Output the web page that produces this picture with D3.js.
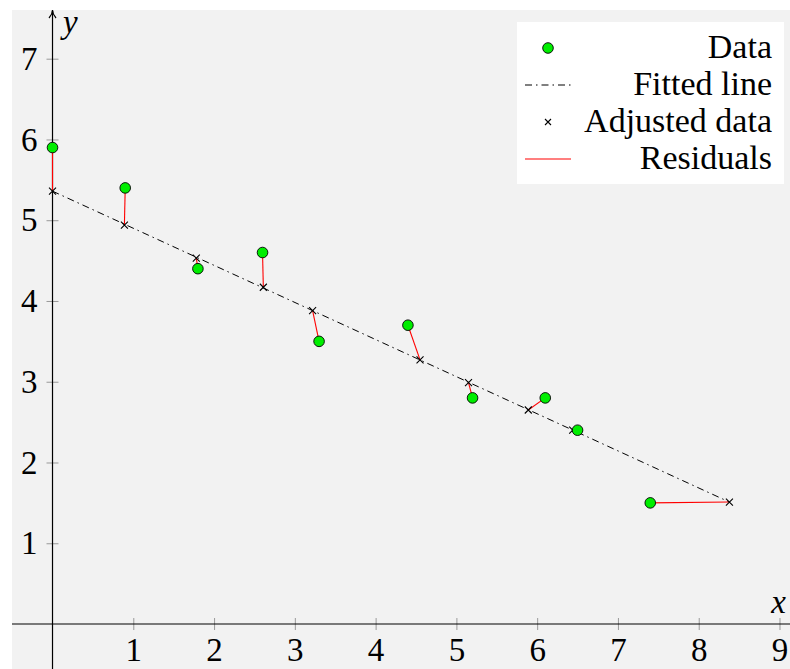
<!DOCTYPE html>
<html>
<head>
<meta charset="utf-8">
<script src="https://cdn.jsdelivr.net/npm/d3@7"></script>
<style>
    body { margin: 0; background: #ffffff; }
    svg { display: block; }
</style>
</head>
<body>
<div id="chart"></div>
<script>
// measured data points
let dataX = [0, 0.9, 1.8, 2.6, 3.3, 4.4, 5.2, 6.1, 6.5, 7.4];
let dataY = [5.9, 5.4, 4.4, 4.6, 3.5, 3.7, 2.8, 2.8, 2.4, 1.5];

// adjusted points on the fitted line
let adjX = [0, 0.89, 1.78, 2.61, 3.22, 4.55, 5.15, 5.89, 6.44, 8.38];
let adjY = [5.36, 4.94, 4.53, 4.17, 3.88, 3.27, 2.99, 2.65, 2.40, 1.51];

// fitted line end points
let lineX = [0, 8.38];
let lineY = [5.36, 1.51];

let xTicks = [1, 2, 3, 4, 5, 6, 7, 8, 9];
let yTicks = [1, 2, 3, 4, 5, 6, 7];
let legendLabels = ["Data", "Fitted line", "Adjusted data", "Residuals"];

const WIDTH = 790;
const HEIGHT = 669;
const FONT = "'Liberation Serif', 'DejaVu Serif', 'Times New Roman', serif";
const DASHDOT = "7,4,1.5,4";

function drawCross(g, cx, cy, r) {
    g.append("path")
        .attr("d", "M" + (cx - r) + "," + (cy - r) + "L" + (cx + r) + "," + (cy + r) +
                   "M" + (cx - r) + "," + (cy + r) + "L" + (cx + r) + "," + (cy - r))
        .attr("stroke", "#000")
        .attr("stroke-width", 1.1)
        .attr("fill", "none");
}

function draw() {
    var svg = d3.select("#chart")
        .append("svg")
            .attr("width", WIDTH)
            .attr("height", HEIGHT)
            .attr("font-family", FONT);

    // plot background
    svg.append("rect")
        .attr("x", 12).attr("y", 10)
        .attr("width", WIDTH - 12).attr("height", HEIGHT - 10)
        .attr("fill", "#f2f2f2");

    var x = d3.scaleLinear().domain([-0.5015, 9.13]).range([12, 790]);
    var y = d3.scaleLinear().domain([-0.557, 7.603]).range([669, 10]);

    // x axis
    var xAxis = svg.append("g")
        .attr("transform", "translate(0," + y(0) + ")")
        .call(d3.axisBottom(x).tickValues(xTicks).tickSize(0).tickPadding(14).tickFormat(d3.format("d")))
        .attr("font-family", FONT)
        .attr("font-size", 33);
    xAxis.select(".domain").remove();
    xAxis.selectAll(".tick line").remove();
    xAxis.selectAll(".tick").append("line")
        .attr("y1", -6).attr("y2", 6)
        .attr("stroke", "#999").attr("stroke-width", 1);
    xAxis.selectAll("text").attr("fill", "#000");

    // y axis
    var yAxis = svg.append("g")
        .attr("transform", "translate(" + x(0) + ",0)")
        .call(d3.axisLeft(y).tickValues(yTicks).tickSize(0).tickPadding(15).tickFormat(d3.format("d")))
        .attr("font-family", FONT)
        .attr("font-size", 33);
    yAxis.select(".domain").remove();
    yAxis.selectAll(".tick line").remove();
    yAxis.selectAll(".tick").append("line")
        .attr("x1", -6).attr("x2", 6)
        .attr("stroke", "#999").attr("stroke-width", 1);
    yAxis.selectAll("text").attr("fill", "#000");

    // axis lines with arrows
    svg.append("line")
        .attr("x1", 12).attr("x2", WIDTH)
        .attr("y1", y(0)).attr("y2", y(0))
        .attr("stroke", "#000").attr("stroke-width", 1.2);
    svg.append("line")
        .attr("x1", x(0)).attr("x2", x(0))
        .attr("y1", HEIGHT).attr("y2", 11)
        .attr("stroke", "#000").attr("stroke-width", 1.2);
    svg.append("path")
        .attr("d", "M" + (x(0) - 3.5) + ",18 Q" + x(0) + ",14 " + x(0) + ",10 Q" + x(0) + ",14 " + (x(0) + 3.5) + ",18")
        .attr("stroke", "#000").attr("stroke-width", 1.2).attr("fill", "none");

    svg.append("text")
        .attr("x", 63).attr("y", 33)
        .attr("font-size", 33).attr("font-style", "italic")
        .text("y");
    svg.append("text")
        .attr("x", 786).attr("y", 613)
        .attr("text-anchor", "end")
        .attr("font-size", 33).attr("font-style", "italic")
        .text("x");

    // fitted line
    svg.append("line")
        .attr("x1", x(lineX[0])).attr("y1", y(lineY[0]))
        .attr("x2", x(lineX[1])).attr("y2", y(lineY[1]))
        .attr("stroke", "#000").attr("stroke-width", 1)
        .attr("stroke-dasharray", DASHDOT);

    // residuals
    for (let i = 0; i < dataX.length; i++) {
        svg.append("line")
            .attr("x1", x(dataX[i])).attr("y1", y(dataY[i]))
            .attr("x2", x(adjX[i])).attr("y2", y(adjY[i]))
            .attr("stroke", "#ff0000").attr("stroke-width", 1.1);
    }

    // adjusted data
    let crosses = svg.append("g");
    for (let i = 0; i < adjX.length; i++) {
        drawCross(crosses, x(adjX[i]), y(adjY[i]), 3.5);
    }

    // data points
    svg.append("g").selectAll("circle")
        .data(d3.range(dataX.length))
        .enter()
        .append("circle")
            .attr("cx", d => x(dataX[d]))
            .attr("cy", d => y(dataY[d]))
            .attr("r", 5.3)
            .attr("fill", "#00ee00")
            .attr("stroke", "#000")
            .attr("stroke-width", 0.9);

    // legend
    let legend = svg.append("g");
    legend.append("rect")
        .attr("x", 517).attr("y", 22)
        .attr("width", 267).attr("height", 162)
        .attr("fill", "#ffffff");
    let rowY = [48, 85, 122, 159];
    for (let i = 0; i < legendLabels.length; i++) {
        legend.append("text")
            .attr("x", 772).attr("y", rowY[i] + 10)
            .attr("text-anchor", "end")
            .attr("font-size", 34)
            .text(legendLabels[i]);
    }
    legend.append("circle")
        .attr("cx", 548).attr("cy", rowY[0]).attr("r", 5.3)
        .attr("fill", "#00ee00").attr("stroke", "#000").attr("stroke-width", 0.9);
    legend.append("line")
        .attr("x1", 525).attr("x2", 571).attr("y1", rowY[1]).attr("y2", rowY[1])
        .attr("stroke", "#000").attr("stroke-width", 1)
        .attr("stroke-dasharray", DASHDOT);
    drawCross(legend, 548, rowY[2], 3);
    legend.append("line")
        .attr("x1", 525).attr("x2", 571).attr("y1", rowY[3]).attr("y2", rowY[3])
        .attr("stroke", "#ff0000").attr("stroke-width", 1.1);
}

window.addEventListener("load", draw);
</script>
</body>
</html>
